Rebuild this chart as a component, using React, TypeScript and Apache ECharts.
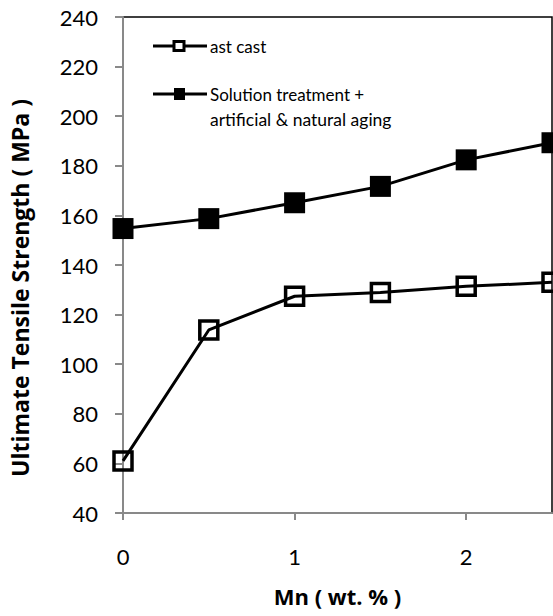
import React, { useEffect, useRef } from "react";
import * as echarts from "echarts";

const mnContent = [0, 0.5, 1, 1.5, 2, 2.5];
const asCast = [61, 113.8, 127.4, 128.9, 131.4, 133];
const solutionAged = [154.7, 158.7, 165.1, 171.7, 182.4, 189.3];
const xTickValues = [0, 1, 2];
const seriesNames = ["ast cast", "Solution treatment +\nartificial & natural aging"];

const FONT = "Lato";
const BOLD_FONT = "Open Sans";

export default function App() {
  const ref = useRef<HTMLDivElement>(null);
  useEffect(() => {
    const chart = echarts.init(ref.current!, null, { renderer: "svg" });
    const axisGray = "#898989";
    chart.setOption({
      animation: false,
      backgroundColor: "#fff",
      grid: {
        left: 120,
        top: 17,
        right: 1,
        bottom: 103,
        show: true,
        borderColor: "#000",
        borderWidth: 1.5,
        backgroundColor: "transparent",
      },
      xAxis: {
        type: "value",
        min: 0,
        max: 2.5,
        interval: 1,
        name: "Mn ( wt. % )",
        nameLocation: "middle",
        nameGap: 72,
        nameTextStyle: { fontFamily: BOLD_FONT, fontWeight: "bold", fontSize: 22, color: "#000" },
        axisLine: { show: true, lineStyle: { color: axisGray, width: 2 } },
        axisTick: { show: true, length: 7, customValues: xTickValues, lineStyle: { color: axisGray, width: 2 } },
        axisLabel: {
          customValues: xTickValues,
          margin: 32,
          fontFamily: FONT,
          fontSize: 22,
          color: "#000",
        },
        splitLine: { show: false },
      },
      yAxis: {
        type: "value",
        min: 40,
        max: 240,
        interval: 20,
        name: "Ultimate Tensile Strength ( MPa )",
        nameLocation: "middle",
        nameGap: 92,
        nameTextStyle: {
          fontFamily: BOLD_FONT,
          fontWeight: "bold",
          fontSize: 23,
          color: "#000",
          padding: [0, 46, 0, 0],
        },
        axisLine: { show: true, lineStyle: { color: axisGray, width: 2 } },
        axisTick: { show: true, length: 8, lineStyle: { color: axisGray, width: 2 } },
        axisLabel: { margin: 25, fontFamily: FONT, fontSize: 22, color: "#000" },
        splitLine: { show: false },
      },
      series: [
        {
          name: seriesNames[0],
          type: "line",
          data: mnContent.map((x, i) => [x, asCast[i]]),
          symbol: "rect",
          symbolSize: 18,
          clip: false,
          lineStyle: { color: "#000", width: 3 },
          itemStyle: { color: "transparent", borderColor: "#000", borderWidth: 3.5 },
          z: 3,
        },
        {
          name: seriesNames[1],
          type: "line",
          data: mnContent.map((x, i) => [x, solutionAged[i]]),
          symbol: "rect",
          symbolSize: 21,
          clip: false,
          lineStyle: { color: "#000", width: 3 },
          itemStyle: { color: "#000", borderColor: "#000", borderWidth: 0 },
          z: 3,
        },
      ],
      graphic: [
        { type: "line", shape: { x1: 153, y1: 46, x2: 207, y2: 46 }, style: { stroke: "#000", lineWidth: 3 } },
        { type: "rect", shape: { x: 174, y: 41.5, width: 10, height: 9 }, style: { fill: "#fff", stroke: "#000", lineWidth: 3 } },
        { type: "text", x: 210, y: 46, style: { text: seriesNames[0], fontFamily: FONT, fontSize: 17, fill: "#000", verticalAlign: "middle" } },
        { type: "line", shape: { x1: 153, y1: 94, x2: 207, y2: 94 }, style: { stroke: "#000", lineWidth: 3 } },
        { type: "rect", shape: { x: 174, y: 88, width: 11, height: 12 }, style: { fill: "#000" } },
        { type: "text", x: 210, y: 94, style: { text: "Solution treatment +", fontFamily: FONT, fontSize: 17, fill: "#000", verticalAlign: "middle" } },
        { type: "text", x: 210, y: 119, style: { text: "artificial & natural aging", fontFamily: FONT, fontSize: 17.5, fill: "#000", verticalAlign: "middle" } },
      ],
    });
    return () => chart.dispose();
  }, []);
  return <div ref={ref} style={{ width: 553, height: 616, position: "absolute", left: 0, top: 0 }} />;
}
